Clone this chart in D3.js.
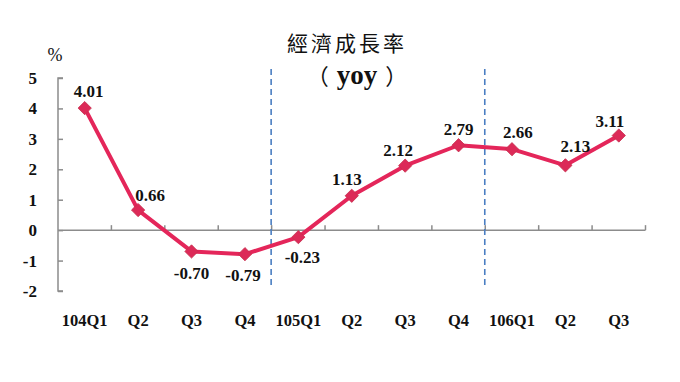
<!DOCTYPE html>
<html><head><meta charset="utf-8">
<script src="https://cdn.jsdelivr.net/npm/d3@7"></script>
<style>body{margin:0;background:#fff}svg{display:block}</style>
</head><body>
<svg id="c" width="680" height="382"></svg>
<script>
const categories = ["104Q1","Q2","Q3","Q4","105Q1","Q2","Q3","Q4","106Q1","Q2","Q3"];
const growth = [4.01, 0.66, -0.70, -0.79, -0.23, 1.13, 2.12, 2.79, 2.66, 2.13, 3.11];
const yTicks = [-2, -1, 0, 1, 2, 3, 4, 5];
const yearBreaks = [4, 8];
const labelOffsets = [[4,-11],[12,-9],[0,28],[-2,27],[4,26],[-5,-11],[-7,-10],[0,-10],[6,-11],[10,-13],[-9,-9]];

const svg = d3.select("#c");
const serif = "'Liberation Serif','Times New Roman',serif";
const cjk = "'Noto Sans CJK TC','Noto Sans CJK SC',sans-serif";
const lineColor = "#E4265A";
const axisColor = "#8c8c8c";

const x = d3.scaleBand().domain(d3.range(categories.length)).range([58, 645.5]);
const y = d3.scaleLinear().domain([-2, 5]).range([291, 78]);
const cx = i => x(i) + x.bandwidth() / 2;

// Title
svg.append("text").attr("x", 347).attr("y", 51).attr("text-anchor", "middle")
  .style("font-family", cjk)
  .style("font-size", "21px").style("letter-spacing", "3px").attr("fill", "#111")
  .text("經濟成長率");
const sub = svg.append("text").attr("x", 357).attr("y", 84).attr("text-anchor", "middle").attr("fill", "#111");
sub.append("tspan").style("font-family", cjk).style("font-size", "22px").text("（");
sub.append("tspan").attr("dx", 8).style("font-family", serif).style("font-weight", "bold").style("font-size", "27px").text("yoy");
sub.append("tspan").attr("dx", 8).style("font-family", cjk).style("font-size", "22px").text("）");

// % unit
svg.append("text").attr("x", 55).attr("y", 61).attr("text-anchor", "middle")
  .style("font-family", serif).style("font-size", "18px").attr("fill", "#111").text("%");

// Y axis
const yAxis = d3.axisRight(y).tickValues(yTicks).tickSize(5).tickFormat("");
const yg = svg.append("g").attr("transform", "translate(58,0)").call(yAxis);
yg.select(".domain").attr("stroke", axisColor).attr("stroke-width", 1.5).attr("d", `M5,${y(5)}H0V${y(-2)}H5`);
yg.selectAll(".tick line").attr("stroke", axisColor).attr("stroke-width", 1.5);
svg.append("g").selectAll("text").data(yTicks).join("text")
  .attr("x", 37).attr("y", d => y(d) + 6).attr("text-anchor", "end")
  .style("font-family", serif).style("font-weight", "bold").style("font-size", "17px").attr("fill", "#111")
  .text(d => d);

// X axis at zero
const xg = svg.append("g");
xg.append("line").attr("x1", 58).attr("x2", 645.5).attr("y1", y(0)).attr("y2", y(0))
  .attr("stroke", axisColor).attr("stroke-width", 1.5);
xg.selectAll("line.t").data(d3.range(1, categories.length + 1)).join("line").attr("class", "t")
  .attr("x1", i => x.range()[0] + i * x.step()).attr("x2", i => x.range()[0] + i * x.step())
  .attr("y1", y(0)).attr("y2", y(0) - 5).attr("stroke", axisColor).attr("stroke-width", 1.5);

// Category labels
svg.append("g").selectAll("text").data(categories).join("text")
  .attr("x", (d, i) => cx(i)).attr("y", 326).attr("text-anchor", "middle")
  .style("font-family", serif).style("font-weight", "bold").style("font-size", "16.5px").attr("fill", "#111")
  .text(d => d);

// Year separators
svg.append("g").selectAll("line").data(yearBreaks).join("line")
  .attr("x1", i => x(i) - 0.5).attr("x2", i => x(i) - 0.5).attr("y1", 69).attr("y2", 288)
  .attr("stroke", "#4A7EC2").attr("stroke-width", 1.6).attr("stroke-dasharray", "6,4");

// Line
const line = d3.line().x((d, i) => cx(i)).y(d => y(d));
svg.append("path").datum(growth).attr("d", line).attr("fill", "none")
  .attr("stroke", lineColor).attr("stroke-width", 4).attr("stroke-linejoin", "round");

// Markers
svg.append("g").selectAll("path").data(growth).join("path")
  .attr("d", d3.symbol().type(d3.symbolSquare).size(88))
  .attr("transform", (d, i) => `translate(${cx(i)},${y(d)}) rotate(45)`)
  .attr("fill", "#DC2A58").attr("stroke", "#C8304F").attr("stroke-width", 0.8);

// Data labels
svg.append("g").selectAll("text").data(growth).join("text")
  .attr("x", (d, i) => cx(i) + labelOffsets[i][0]).attr("y", (d, i) => y(d) + labelOffsets[i][1])
  .attr("text-anchor", "middle")
  .style("font-family", serif).style("font-weight", "bold").style("font-size", "17px").attr("fill", "#111")
  .text(d => d.toFixed(2));
</script>
</body></html>
